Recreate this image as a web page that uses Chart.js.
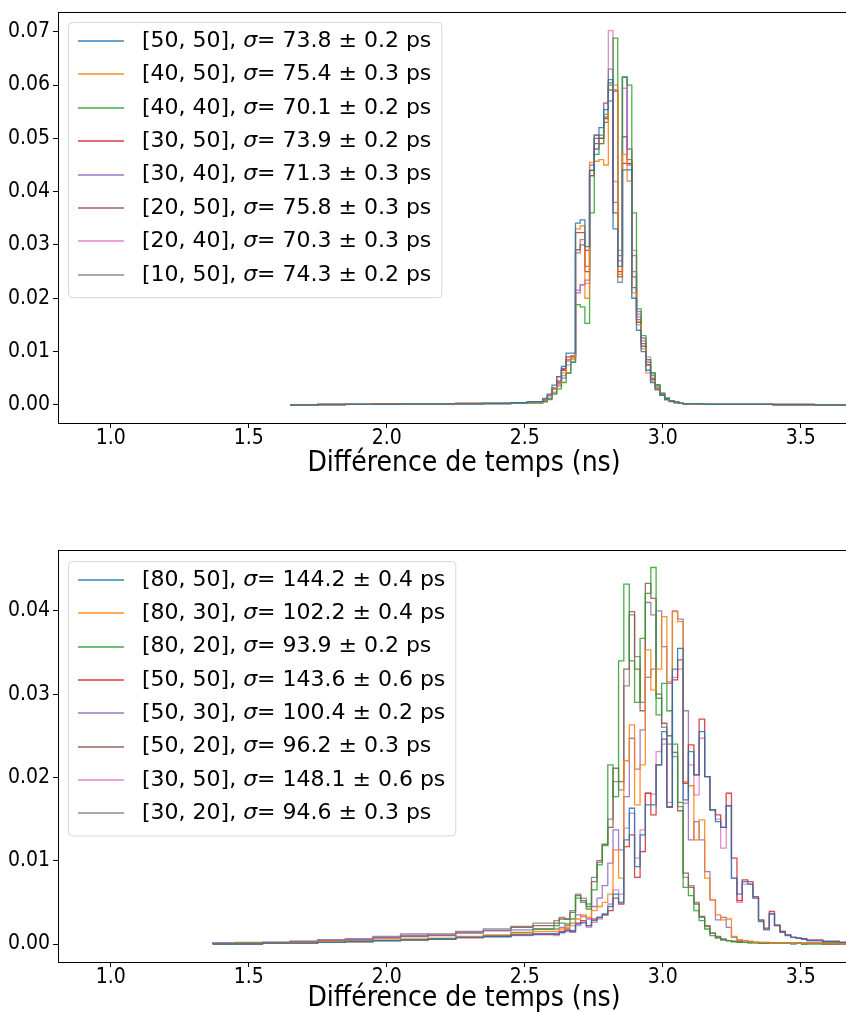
<!DOCTYPE html>
<html>
<head>
<meta charset="utf-8">
<script src="https://cdn.jsdelivr.net/npm/chart.js@4.4.1/dist/chart.umd.min.js"></script>
<style>
html,body{margin:0;padding:0;background:#fff;overflow:hidden;width:846px;height:1012px;}
#wrap{position:relative;width:846px;height:1012px;overflow:hidden;background:#fff;}
canvas{position:absolute;left:0;}
#c1{top:0;}
#c2{top:500px;}
</style>
</head>
<body>
<div id="wrap">
<canvas id="c1" width="870" height="480" style="width:870px;height:480px"></canvas>
<canvas id="c2" width="870" height="512" style="width:870px;height:512px"></canvas>
</div>
<script>
// ---------- tick labels ----------
const xTicks = [1.0, 1.5, 2.0, 2.5, 3.0, 3.5];
const topYTicks = [0.00, 0.01, 0.02, 0.03, 0.04, 0.05, 0.06, 0.07];
const botYTicks = [0.00, 0.01, 0.02, 0.03, 0.04];
const xTitle = 'Différence de temps (ns)';

// ---------- top panel ----------
const topPairs = ['[50, 50]', '[40, 50]', '[40, 40]', '[30, 50]', '[30, 40]', '[20, 50]', '[20, 40]', '[10, 50]'];
const topSigma = ['73.8', '75.4', '70.1', '73.9', '71.3', '75.8', '70.3', '74.3'];
const topErr   = ['0.2', '0.3', '0.2', '0.2', '0.3', '0.3', '0.3', '0.2'];

const topEdges = [1.65, 1.75, 1.85, 1.95, 2.05, 2.15, 2.25, 2.35, 2.45, 2.51,
  2.565, 2.582, 2.599, 2.616, 2.633, 2.650, 2.667, 2.684, 2.701, 2.718,
  2.735, 2.752, 2.769, 2.786, 2.803, 2.820, 2.837, 2.854, 2.871, 2.888,
  2.905, 2.922, 2.939, 2.956, 2.973, 2.990, 3.007, 3.024, 3.041, 3.058,
  3.075, 3.10, 3.15, 3.25, 3.40, 3.55, 3.70];

const top_50_50 = [0.0000, 0.0001, 0.0001, 0.0001, 0.0002, 0.0002, 0.0002, 0.0003, 0.0004, 0.0006,
  0.0012, 0.0020, 0.0037, 0.0045, 0.0072, 0.0097, 0.0097, 0.0341, 0.0347, 0.0297,
  0.0440, 0.0500, 0.0520, 0.0554, 0.0610, 0.0330, 0.0260, 0.0441, 0.0441, 0.0200,
  0.0140, 0.0100, 0.0065, 0.0042, 0.0028, 0.0018, 0.0010, 0.0007, 0.0005, 0.0003,
  0.0002, 0.0002, 0.0001, 0.0001, 0.0001, 0.0000];
const top_40_50 = [0.0000, 0.0000, 0.0001, 0.0001, 0.0002, 0.0002, 0.0003, 0.0003, 0.0004, 0.0005,
  0.0010, 0.0018, 0.0030, 0.0040, 0.0060, 0.0085, 0.0090, 0.0330, 0.0336, 0.0200,
  0.0455, 0.0457, 0.0460, 0.0450, 0.0590, 0.0600, 0.0245, 0.0470, 0.0420, 0.0210,
  0.0150, 0.0105, 0.0060, 0.0045, 0.0030, 0.0018, 0.0010, 0.0007, 0.0004, 0.0003,
  0.0002, 0.0001, 0.0001, 0.0001, 0.0000, 0.0000];
const top_40_40 = [0.0000, 0.0000, 0.0001, 0.0001, 0.0001, 0.0002, 0.0002, 0.0002, 0.0003, 0.0004,
  0.0006, 0.0010, 0.0020, 0.0030, 0.0042, 0.0060, 0.0080, 0.0188, 0.0184, 0.0153,
  0.0360, 0.0470, 0.0490, 0.0540, 0.0600, 0.0688, 0.0280, 0.0615, 0.0600, 0.0360,
  0.0180, 0.0130, 0.0085, 0.0060, 0.0038, 0.0022, 0.0012, 0.0008, 0.0005, 0.0003,
  0.0002, 0.0002, 0.0001, 0.0001, 0.0000, 0.0000];
const top_30_50 = [0.0000, 0.0001, 0.0001, 0.0002, 0.0002, 0.0002, 0.0003, 0.0003, 0.0004, 0.0006,
  0.0010, 0.0018, 0.0030, 0.0042, 0.0065, 0.0090, 0.0092, 0.0323, 0.0323, 0.0250,
  0.0440, 0.0490, 0.0500, 0.0537, 0.0604, 0.0360, 0.0250, 0.0453, 0.0453, 0.0220,
  0.0155, 0.0110, 0.0075, 0.0048, 0.0030, 0.0018, 0.0010, 0.0006, 0.0004, 0.0003,
  0.0002, 0.0001, 0.0001, 0.0001, 0.0001, 0.0000];
const top_30_40 = [0.0000, 0.0000, 0.0001, 0.0001, 0.0001, 0.0002, 0.0002, 0.0003, 0.0003, 0.0004,
  0.0006, 0.0012, 0.0022, 0.0035, 0.0050, 0.0059, 0.0080, 0.0210, 0.0225, 0.0234,
  0.0450, 0.0480, 0.0500, 0.0566, 0.0630, 0.0380, 0.0270, 0.0615, 0.0450, 0.0250,
  0.0165, 0.0120, 0.0080, 0.0055, 0.0035, 0.0020, 0.0012, 0.0007, 0.0005, 0.0003,
  0.0002, 0.0002, 0.0001, 0.0001, 0.0000, 0.0000];
const top_20_50 = [0.0000, 0.0001, 0.0001, 0.0001, 0.0002, 0.0002, 0.0003, 0.0003, 0.0004, 0.0006,
  0.0010, 0.0018, 0.0032, 0.0053, 0.0068, 0.0085, 0.0090, 0.0291, 0.0300, 0.0290,
  0.0430, 0.0506, 0.0506, 0.0530, 0.0591, 0.0591, 0.0240, 0.0503, 0.0460, 0.0240,
  0.0160, 0.0115, 0.0075, 0.0050, 0.0032, 0.0020, 0.0012, 0.0007, 0.0005, 0.0003,
  0.0002, 0.0001, 0.0001, 0.0001, 0.0000, 0.0000];
const top_20_40 = [0.0000, 0.0000, 0.0001, 0.0001, 0.0001, 0.0002, 0.0002, 0.0002, 0.0003, 0.0004,
  0.0006, 0.0012, 0.0024, 0.0038, 0.0055, 0.0075, 0.0085, 0.0215, 0.0225, 0.0228,
  0.0430, 0.0480, 0.0490, 0.0566, 0.0702, 0.0419, 0.0290, 0.0594, 0.0480, 0.0290,
  0.0170, 0.0125, 0.0090, 0.0060, 0.0038, 0.0022, 0.0013, 0.0008, 0.0005, 0.0003,
  0.0002, 0.0002, 0.0001, 0.0001, 0.0001, 0.0000];
const top_10_50 = [0.0000, 0.0001, 0.0001, 0.0001, 0.0002, 0.0002, 0.0003, 0.0003, 0.0004, 0.0005,
  0.0009, 0.0017, 0.0030, 0.0053, 0.0066, 0.0082, 0.0088, 0.0285, 0.0310, 0.0260,
  0.0430, 0.0506, 0.0500, 0.0545, 0.0570, 0.0588, 0.0230, 0.0615, 0.0480, 0.0280,
  0.0175, 0.0125, 0.0085, 0.0058, 0.0036, 0.0021, 0.0012, 0.0008, 0.0005, 0.0003,
  0.0002, 0.0002, 0.0001, 0.0001, 0.0000, 0.0000];

// ---------- bottom panel ----------
const botPairs = ['[80, 50]', '[80, 30]', '[80, 20]', '[50, 50]', '[50, 30]', '[50, 20]', '[30, 50]', '[30, 20]'];
const botSigma = ['144.2', '102.2', '93.9', '143.6', '100.4', '96.2', '148.1', '94.6'];
const botErr   = ['0.4', '0.4', '0.2', '0.6', '0.2', '0.3', '0.6', '0.3'];

const botEdges = [1.37, 1.45, 1.55, 1.65, 1.75, 1.85, 1.95, 2.05, 2.15, 2.25, 2.35, 2.45, 2.53,
  2.606, 2.625, 2.645, 2.664, 2.684, 2.703, 2.723, 2.742, 2.762, 2.781,
  2.801, 2.820, 2.840, 2.859, 2.879, 2.898, 2.918, 2.937, 2.957, 2.976,
  2.996, 3.015, 3.035, 3.054, 3.074, 3.093, 3.113, 3.132, 3.152, 3.171,
  3.191, 3.210, 3.230, 3.249, 3.269, 3.288, 3.308, 3.327, 3.347, 3.366,
  3.386, 3.405, 3.425, 3.444, 3.464, 3.483, 3.503,
  3.522, 3.58, 3.64, 3.70];

const bot_80_50 = [0.0000, 0.0000, 0.0001, 0.0001, 0.0002, 0.0003, 0.0004, 0.0005, 0.0006, 0.0008, 0.0009, 0.0011, 0.0012,
  0.0012, 0.0014, 0.0016, 0.0015, 0.0024, 0.0026, 0.0022, 0.0028, 0.0032, 0.0036,
  0.0045, 0.0060, 0.0050, 0.0125, 0.0163, 0.0093, 0.0131, 0.0167, 0.0167, 0.0215,
  0.0255, 0.0165, 0.0330, 0.0355, 0.0173, 0.0231, 0.0203, 0.0255, 0.0201, 0.0161,
  0.0147, 0.0140, 0.0166, 0.0079, 0.0060, 0.0075, 0.0072, 0.0055, 0.0027, 0.0017,
  0.0036, 0.0022, 0.0014, 0.0010, 0.0008, 0.0007, 0.0006,
  0.0004, 0.0003, 0.0002];
const bot_80_30 = [0.0000, 0.0001, 0.0001, 0.0002, 0.0003, 0.0004, 0.0005, 0.0006, 0.0007, 0.0009, 0.0011, 0.0013, 0.0015,
  0.0015, 0.0018, 0.0020, 0.0022, 0.0030, 0.0035, 0.0032, 0.0040, 0.0045, 0.0050,
  0.0060, 0.0113, 0.0079, 0.0220, 0.0263, 0.0167, 0.0215, 0.0353, 0.0305, 0.0330,
  0.0393, 0.0315, 0.0399, 0.0387, 0.0195, 0.0190, 0.0125, 0.0149, 0.0079, 0.0053,
  0.0035, 0.0029, 0.0030, 0.0009, 0.0005, 0.0004, 0.0003, 0.0002, 0.0002, 0.0002,
  0.0001, 0.0001, 0.0001, 0.0001, 0.0001, 0.0001, 0.0001,
  0.0001, 0.0001, 0.0000];
const bot_80_20 = [0.0000, 0.0001, 0.0001, 0.0002, 0.0002, 0.0003, 0.0004, 0.0005, 0.0006, 0.0008, 0.0010, 0.0014, 0.0018,
  0.0022, 0.0025, 0.0024, 0.0030, 0.0055, 0.0050, 0.0042, 0.0065, 0.0095, 0.0119,
  0.0215, 0.0177, 0.0340, 0.0432, 0.0340, 0.0290, 0.0367, 0.0421, 0.0452, 0.0275,
  0.0313, 0.0280, 0.0240, 0.0170, 0.0068, 0.0058, 0.0040, 0.0028, 0.0018, 0.0010,
  0.0007, 0.0005, 0.0004, 0.0003, 0.0002, 0.0002, 0.0001, 0.0001, 0.0001, 0.0001,
  0.0001, 0.0001, 0.0001, 0.0001, 0.0000, 0.0001, 0.0000,
  0.0000, 0.0001, 0.0000];
const bot_50_50 = [0.0000, 0.0000, 0.0001, 0.0001, 0.0002, 0.0003, 0.0004, 0.0005, 0.0006, 0.0008, 0.0009, 0.0011, 0.0012,
  0.0012, 0.0015, 0.0018, 0.0016, 0.0025, 0.0028, 0.0022, 0.0030, 0.0032, 0.0035,
  0.0040, 0.0055, 0.0048, 0.0117, 0.0131, 0.0080, 0.0111, 0.0181, 0.0155, 0.0215,
  0.0246, 0.0164, 0.0317, 0.0341, 0.0193, 0.0239, 0.0203, 0.0270, 0.0201, 0.0161,
  0.0155, 0.0140, 0.0181, 0.0103, 0.0052, 0.0077, 0.0075, 0.0057, 0.0029, 0.0019,
  0.0039, 0.0023, 0.0015, 0.0011, 0.0008, 0.0007, 0.0006,
  0.0005, 0.0003, 0.0002];
const bot_50_30 = [0.0001, 0.0001, 0.0002, 0.0003, 0.0005, 0.0006, 0.0009, 0.0012, 0.0011, 0.0014, 0.0016, 0.0017, 0.0018,
  0.0018, 0.0020, 0.0022, 0.0025, 0.0035, 0.0033, 0.0030, 0.0045, 0.0055, 0.0070,
  0.0097, 0.0137, 0.0113, 0.0177, 0.0247, 0.0210, 0.0257, 0.0320, 0.0330, 0.0400,
  0.0357, 0.0313, 0.0400, 0.0390, 0.0280, 0.0125, 0.0147, 0.0125, 0.0087, 0.0053,
  0.0029, 0.0032, 0.0020, 0.0008, 0.0005, 0.0004, 0.0003, 0.0002, 0.0002, 0.0002,
  0.0001, 0.0001, 0.0001, 0.0001, 0.0001, 0.0001, 0.0001,
  0.0001, 0.0001, 0.0000];
const bot_50_20 = [0.0001, 0.0001, 0.0002, 0.0003, 0.0004, 0.0005, 0.0007, 0.0009, 0.0010, 0.0013, 0.0016, 0.0020, 0.0022,
  0.0025, 0.0030, 0.0030, 0.0038, 0.0058, 0.0052, 0.0045, 0.0075, 0.0100, 0.0120,
  0.0140, 0.0211, 0.0195, 0.0330, 0.0399, 0.0330, 0.0280, 0.0433, 0.0415, 0.0300,
  0.0265, 0.0250, 0.0230, 0.0160, 0.0085, 0.0068, 0.0048, 0.0033, 0.0022, 0.0013,
  0.0009, 0.0006, 0.0004, 0.0003, 0.0003, 0.0002, 0.0002, 0.0002, 0.0001, 0.0001,
  0.0001, 0.0001, 0.0001, 0.0001, 0.0001, 0.0001, 0.0000,
  0.0001, 0.0000, 0.0000];
const bot_30_50 = [0.0000, 0.0001, 0.0001, 0.0002, 0.0002, 0.0003, 0.0004, 0.0005, 0.0006, 0.0007, 0.0009, 0.0010, 0.0011,
  0.0010, 0.0013, 0.0015, 0.0014, 0.0022, 0.0025, 0.0020, 0.0026, 0.0030, 0.0035,
  0.0048, 0.0065, 0.0060, 0.0139, 0.0157, 0.0103, 0.0137, 0.0181, 0.0180, 0.0231,
  0.0240, 0.0170, 0.0320, 0.0330, 0.0169, 0.0215, 0.0179, 0.0247, 0.0201, 0.0161,
  0.0150, 0.0115, 0.0166, 0.0079, 0.0050, 0.0072, 0.0072, 0.0055, 0.0028, 0.0018,
  0.0036, 0.0022, 0.0015, 0.0011, 0.0008, 0.0007, 0.0006,
  0.0004, 0.0003, 0.0002];
const bot_30_20 = [0.0001, 0.0002, 0.0002, 0.0003, 0.0005, 0.0006, 0.0008, 0.0010, 0.0012, 0.0015, 0.0018, 0.0021, 0.0025,
  0.0028, 0.0032, 0.0030, 0.0040, 0.0060, 0.0055, 0.0048, 0.0080, 0.0098, 0.0118,
  0.0150, 0.0195, 0.0185, 0.0310, 0.0395, 0.0345, 0.0290, 0.0410, 0.0395, 0.0295,
  0.0260, 0.0240, 0.0225, 0.0165, 0.0080, 0.0070, 0.0050, 0.0032, 0.0021, 0.0013,
  0.0008, 0.0005, 0.0004, 0.0003, 0.0003, 0.0002, 0.0002, 0.0002, 0.0001, 0.0001,
  0.0001, 0.0001, 0.0001, 0.0001, 0.0001, 0.0001, 0.0001,
  0.0001, 0.0000, 0.0000];

// ---------- styling ----------
const palette = ['#1f77b4', '#ff7f0e', '#2ca02c', '#d62728', '#9467bd', '#8c564b', '#e377c2', '#7f7f7f'];
const FONT = "'DejaVu Sans', 'Liberation Sans', sans-serif";
const FONT_COND = "'DejaVu Sans Condensed', 'DejaVu Sans', sans-serif";

function rgba(hex, a) {
  const n = parseInt(hex.slice(1), 16);
  return `rgba(${(n >> 16) & 255},${(n >> 8) & 255},${n & 255},${a})`;
}

function histPoints(edges, values) {
  const pts = [{x: edges[0], y: 0}];
  values.forEach((v, i) => pts.push({x: edges[i], y: v}));
  pts.push({x: edges[values.length], y: 0});
  return pts;
}

const framePlugin = {
  id: 'frame',
  afterDatasetsDraw(chart) {
    const {ctx, chartArea: a} = chart;
    ctx.save();
    ctx.strokeStyle = '#000';
    ctx.lineWidth = 1;
    ctx.strokeRect(Math.round(a.left) + 0.5, Math.round(a.top) + 0.5,
      Math.round(a.right - a.left), Math.round(a.bottom - a.top));
    ctx.restore();
  }
};

const boxLegendPlugin = {
  id: 'boxLegend',
  afterDraw(chart, args, opts) {
    const {ctx, chartArea: a} = chart;
    const fs = opts.fontSize;
    const left = a.left + opts.offLeft, top = a.top + opts.offTop;
    const rowH = opts.rowH;
    const items = chart.data.datasets.map((ds, i) => ({
      color: palette[i],
      pre: opts.pairs[i] + ', ',
      sig: 'σ',
      post: '= ' + opts.sigma[i] + ' ± ' + opts.err[i] + ' ps'
    }));
    ctx.save();
    const normal = `${fs}px ${FONT}`;
    const ital = `italic ${fs}px ${FONT}`;
    let maxW = 0;
    items.forEach(it => {
      ctx.font = normal; let w = ctx.measureText(it.pre).width + ctx.measureText(it.post).width;
      ctx.font = ital; w += ctx.measureText(it.sig).width;
      maxW = Math.max(maxW, w);
    });
    const W = opts.textX + maxW + opts.padRight;
    const H = items.length * rowH + opts.padV;
    ctx.beginPath();
    ctx.roundRect(left + 0.5, top + 0.5, W, H, 4);
    ctx.fillStyle = 'rgba(255,255,255,0.8)';
    ctx.fill();
    ctx.strokeStyle = '#d6d6d6';
    ctx.lineWidth = 1;
    ctx.stroke();
    ctx.textBaseline = 'middle';
    items.forEach((it, i) => {
      const y = top + opts.firstRow + i * rowH;
      ctx.beginPath();
      ctx.strokeStyle = rgba(it.color, 0.9);
      ctx.lineWidth = 1.5;
      ctx.moveTo(left + 10, Math.round(y));
      ctx.lineTo(left + 56, Math.round(y));
      ctx.stroke();
      let x = left + opts.textX;
      ctx.fillStyle = '#000';
      ctx.font = normal; ctx.fillText(it.pre, x, y); x += ctx.measureText(it.pre).width;
      ctx.font = ital; ctx.fillText(it.sig, x, y); x += ctx.measureText(it.sig).width;
      ctx.font = normal; ctx.fillText(it.post, x, y);
    });
    ctx.restore();
  }
};

function makeChart(canvasId, edges, series, yTicks, yMin, yMax, padTop, xAxisH, titlePadBottom, legendOpts) {
  const datasets = series.map((vals, i) => ({
    label: legendOpts.pairs[i] + ', σ= ' + legendOpts.sigma[i] + ' ± ' + legendOpts.err[i] + ' ps',
    data: histPoints(edges, vals),
    borderColor: rgba(palette[i], 0.85),
    borderWidth: 1.3,
    pointRadius: 0,
    stepped: true,
    fill: false,
    tension: 0
  }));
  return new Chart(document.getElementById(canvasId), {
    type: 'line',
    data: {datasets},
    options: {
      responsive: false,
      animation: false,
      devicePixelRatio: 1,
      events: [],
      layout: {padding: {top: padTop, left: 0, right: 0, bottom: 0}},
      plugins: {
        legend: {display: false},
        tooltip: {enabled: false},
        boxLegend: legendOpts
      },
      scales: {
        x: {
          type: 'linear',
          min: 0.809, max: 3.751,
          afterBuildTicks: s => { s.ticks = xTicks.map(v => ({value: v})); },
          afterFit: s => { s.height = xAxisH; s.paddingLeft = 0; s.paddingRight = 0; },
          ticks: {
            callback: v => Number(v).toFixed(1),
            font: {family: FONT_COND, size: 21},
            color: '#000',
            padding: -2,
            maxRotation: 0
          },
          grid: {display: true, drawOnChartArea: false, drawTicks: true, tickLength: 5, tickColor: '#000', tickWidth: 1},
          border: {display: false},
          title: {
            display: true,
            text: xTitle,
            font: {family: FONT_COND, size: 28, lineHeight: 1.0},
            color: '#000',
            padding: {top: 0, bottom: titlePadBottom}
          }
        },
        y: {
          type: 'linear',
          min: yMin, max: yMax,
          afterBuildTicks: s => { s.ticks = yTicks.map(v => ({value: v})); },
          afterFit: s => { s.width = 58; s.paddingTop = 0; s.paddingBottom = 0; },
          ticks: {
            callback: v => Number(v).toFixed(2),
            font: {family: FONT_COND, size: 21},
            color: '#000',
            padding: 3
          },
          grid: {display: true, drawOnChartArea: false, drawTicks: true, tickLength: 5, tickColor: '#000', tickWidth: 1},
          border: {display: false}
        }
      }
    },
    plugins: [framePlugin, boxLegendPlugin]
  });
}

makeChart('c1', topEdges,
  [top_50_50, top_40_50, top_40_40, top_30_50, top_30_40, top_20_50, top_20_40, top_10_50],
  topYTicks, -0.0034, 0.0737, 12, 57, 2,
  {pairs: topPairs, sigma: topSigma, err: topErr, fontSize: 22, offLeft: 10, offTop: 10,
   rowH: 33.4, firstRow: 19, textX: 74, padRight: 10, padV: 8});

makeChart('c2', botEdges,
  [bot_80_50, bot_80_30, bot_80_20, bot_50_50, bot_50_30, bot_50_20, bot_30_50, bot_30_20],
  botYTicks, -0.00216, 0.0473, 50, 50, -1,
  {pairs: botPairs, sigma: botSigma, err: botErr, fontSize: 22, offLeft: 10, offTop: 11,
   rowH: 33.3, firstRow: 19, textX: 74, padRight: 10, padV: 8});
</script>
</body>
</html>
